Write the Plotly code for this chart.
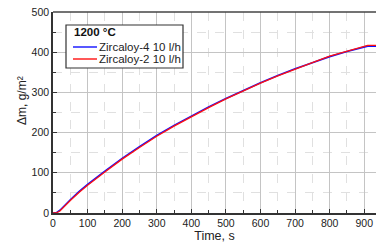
import plotly.graph_objects as go

time_s = [0, 10, 20, 30, 50, 75, 100, 150, 200, 250, 300, 350, 400, 450, 500,
          550, 600, 650, 700, 750, 800, 850, 900, 910, 935]
zry4 = [0, 1, 7, 16, 33, 53, 71, 104, 136, 165, 193, 218, 242, 264, 285,
        305, 324, 342, 359, 374, 389, 402, 413, 415, 415]
zry2 = [0, 0.5, 5, 14, 31, 51, 69, 102, 134, 163, 191, 216, 240, 262, 284,
        304, 323, 341, 358, 374, 390, 403, 415, 417, 417]
series_names = ["Zircaloy-4 10 l/h", "Zircaloy-2 10 l/h"]
series_colors = ["#1010ff", "#ff1010"]
legend_title = "1200 °C"
x_title = "Time, s"
y_title = "Δm, g/m²"

W, H = 376, 250
L, T, R = 53, 12, 0
B = H - 213
PW, PH = W - L - R, H - T - B


def px(x):  # pixel x -> paper
    return (x - L) / PW


def py(y):  # pixel y -> paper
    return (H - B - y) / PH


fig = go.Figure()
fig.add_trace(go.Scatter(x=time_s, y=zry4, mode="lines", name=series_names[0],
                         line=dict(color=series_colors[0], width=1.6)))
fig.add_trace(go.Scatter(x=time_s, y=zry2, mode="lines", name=series_names[1],
                         line=dict(color=series_colors[1], width=1.3)))

font = dict(family="Liberation Sans, Arial, sans-serif", size=11, color="#222")
fig.update_layout(
    width=W, height=H,
    margin=dict(l=L, r=R, t=T, b=B, autoexpand=False),
    paper_bgcolor="white", plot_bgcolor="white",
    font=font,
    showlegend=False,
    xaxis=dict(
        range=[0, 934], dtick=100, tick0=0, automargin=False,
        showgrid=True, gridcolor="#c4c4c4", gridwidth=1,
        minor=dict(dtick=50, showgrid=True, gridcolor="#e0e0e0", griddash="dash",
                   ticks="inside", ticklen=3, tickcolor="#333"),
        ticks="inside", ticklen=4, tickcolor="#333",
        showline=True, linecolor="#333", linewidth=1.5,
        zeroline=False, ticklabeloverflow="allow",
        title=dict(text=x_title, font=dict(size=12.5), standoff=3),
        tickfont=dict(size=10.5),
    ),
    yaxis=dict(
        range=[0, 500], dtick=100, tick0=0, automargin=False,
        showgrid=True, gridcolor="#c4c4c4", gridwidth=1,
        minor=dict(dtick=50, showgrid=True, gridcolor="#e0e0e0", griddash="dash",
                   ticks="inside", ticklen=3, tickcolor="#333"),
        ticks="inside", ticklen=4, tickcolor="#333",
        showline=True, linecolor="#333", linewidth=1.5,
        zeroline=False, ticklabeloverflow="allow",
        tickfont=dict(size=10.5),
    ),
)
# y-axis title placed as in the reference
fig.add_annotation(xref="paper", yref="paper", x=px(22), y=py(101),
                   xanchor="center", yanchor="middle", showarrow=False,
                   textangle=-90, text=y_title, font=dict(size=12, color="#222"))

# top frame line
fig.add_shape(type="line", xref="paper", yref="paper", x0=0, x1=1, y0=1, y1=1,
              line=dict(color="#444", width=1.5))

# manual legend box
fig.add_shape(type="rect", xref="paper", yref="paper",
              x0=px(66), x1=px(183), y0=py(68), y1=py(25),
              line=dict(color="#333", width=1.2), fillcolor="white", layer="above")
fig.add_annotation(xref="paper", yref="paper", x=px(72), y=py(32),
                   xanchor="left", yanchor="middle", showarrow=False,
                   text="<b>" + legend_title + "</b>", font=dict(size=11.5, color="#111"))
for i, (name, col) in enumerate(zip(series_names, series_colors)):
    yy = 47 + 12 * i
    fig.add_shape(type="line", xref="paper", yref="paper",
                  x0=px(73), x1=px(97), y0=py(yy), y1=py(yy),
                  line=dict(color=col, width=1.4), layer="above")
    fig.add_annotation(xref="paper", yref="paper", x=px(97), y=py(yy),
                       xanchor="left", yanchor="middle", showarrow=False,
                       text=name, font=dict(size=11.5, color="#222"))

fig.write_html("out.html", config={"displayModeBar": False},
               post_script="document.body.style.margin='0px';document.body.style.overflow='hidden';")
